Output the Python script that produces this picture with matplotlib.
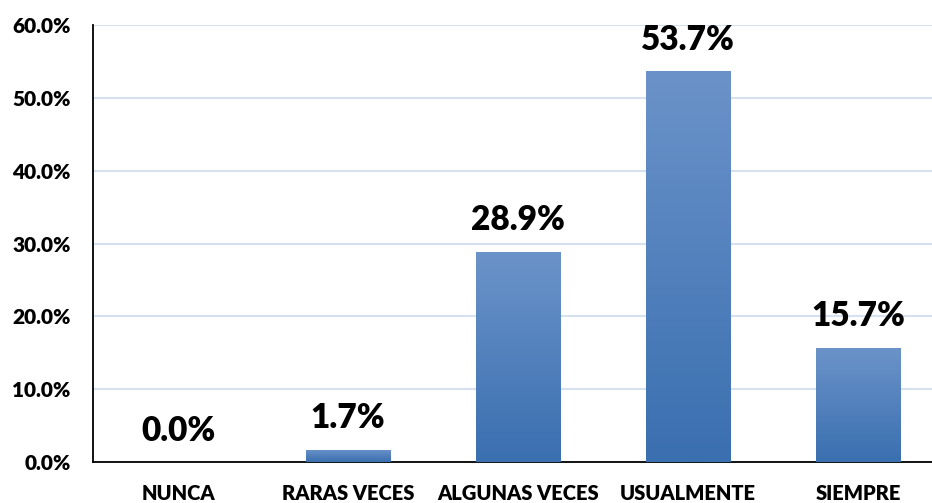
import numpy as np
import matplotlib.pyplot as plt
from matplotlib.colors import LinearSegmentedColormap

categories = ["NUNCA", "RARAS VECES", "ALGUNAS VECES", "USUALMENTE", "SIEMPRE"]
values = [0.0, 1.7, 28.9, 53.7, 15.7]
yticks = [0, 10, 20, 30, 40, 50, 60]

plt.rcParams['font.family'] = ['Lato', 'DejaVu Sans']
plt.rcParams['font.weight'] = 'heavy'

fig = plt.figure(figsize=(9.32, 5.03), dpi=100)
ax = fig.add_axes([93 / 932, 41 / 503, 850 / 932, 437 / 503])

x = np.arange(len(categories))
bars = ax.bar(x, values, width=0.5, color='#4a7dbf', zorder=2)

# vertical gradient inside each bar, lighter on top
cmap = LinearSegmentedColormap.from_list('g', ['#3a6fb0', '#6b93c9'])
grad = np.linspace(0, 1, 256).reshape(-1, 1)
for b in bars:
    h = b.get_height()
    if h <= 0:
        continue
    x0 = b.get_x()
    im = ax.imshow(grad, cmap=cmap, origin='lower', aspect='auto',
                   extent=[x0, x0 + b.get_width(), 0, h], zorder=3)
    im.set_clip_path(b)

for xi, v in zip(x, values):
    ax.annotate(f"{v:.1f}%", (xi, v), xytext=(0, 11), textcoords='offset points',
                ha='center', va='bottom', fontsize=24, fontweight='heavy', color='black')

ax.set_xlim(-0.5, len(categories) - 0.5)
ax.set_ylim(0, 60)
ax.set_yticks(yticks)
ax.set_yticklabels([f"{t:.1f}%" for t in yticks])
ax.set_xticks(x)
ax.set_xticklabels(categories)
ax.tick_params(axis='y', length=0, pad=16, labelsize=15)
ax.tick_params(axis='x', length=0, pad=16, labelsize=14.5)

ax.grid(axis='y', color='#d6e1f0', linewidth=1.5, zorder=0)
ax.set_axisbelow(True)
for s in ['top', 'right']:
    ax.spines[s].set_visible(False)
ax.spines['left'].set_color('black')
ax.spines['bottom'].set_color('black')
ax.spines['left'].set_linewidth(1.3)
ax.spines['bottom'].set_linewidth(1.3)

fig.savefig('out.png', dpi=100)
